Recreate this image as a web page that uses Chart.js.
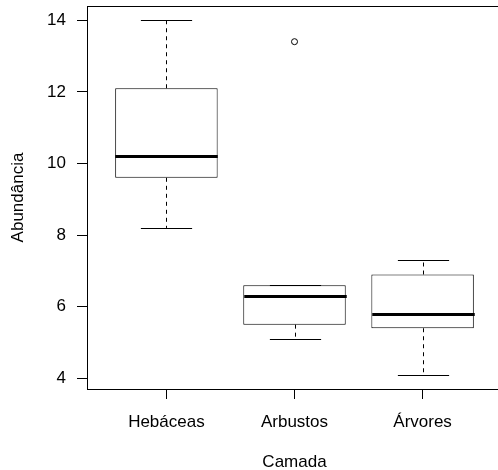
<!DOCTYPE html>
<html>
<head>
<meta charset="utf-8">
<script src="https://cdn.jsdelivr.net/npm/chart.js@4"></script>
<style>
  html, body { margin: 0; padding: 0; background: #fff; overflow: hidden; }
  canvas { display: block; }
</style>
</head>
<body>
<canvas id="boxChart" width="507" height="470"></canvas>
<script>
const categories = ['Hebáceas', 'Arbustos', 'Árvores'];
const whiskerLow = [8.2, 5.1, 4.1];
const q1 = [9.6, 5.5, 5.4];
const median = [10.2, 6.3, 5.8];
const q3 = [12.1, 6.6, 6.9];
const whiskerHigh = [14.0, 6.6, 7.3];
const outliers = [[], [13.4], []];
const yTicks = [4, 6, 8, 10, 12, 14];

const FONT = { family: "'Liberation Sans', Arial, sans-serif", size: 17 };

// whiskers, caps and medians drawn on top of the boxes
const boxExtras = {
    id: 'boxExtras',
    afterDatasetsDraw(chart) {
        const { ctx, scales: { x, y } } = chart;
        const bars = chart.getDatasetMeta(0).data;
        ctx.save();
        categories.forEach((c, i) => {
            const cx = Math.round(x.getPixelForValue(i + 1)) + 0.5;
            const half = bars[i].width / 2;
            const cap = half / 2;

            ctx.strokeStyle = '#000';
            ctx.lineWidth = 1;
            ctx.setLineDash([4, 4]);
            ctx.beginPath();
            ctx.moveTo(cx, y.getPixelForValue(q3[i]));
            ctx.lineTo(cx, y.getPixelForValue(whiskerHigh[i]));
            ctx.moveTo(cx, y.getPixelForValue(q1[i]));
            ctx.lineTo(cx, y.getPixelForValue(whiskerLow[i]));
            ctx.stroke();

            ctx.setLineDash([]);
            ctx.beginPath();
            const yh = Math.round(y.getPixelForValue(whiskerHigh[i])) + 0.5;
            const yl = Math.round(y.getPixelForValue(whiskerLow[i])) + 0.5;
            ctx.moveTo(cx - cap, yh);
            ctx.lineTo(cx + cap, yh);
            ctx.moveTo(cx - cap, yl);
            ctx.lineTo(cx + cap, yl);
            ctx.stroke();

            ctx.lineWidth = 3;
            ctx.beginPath();
            const ym = Math.round(y.getPixelForValue(median[i])) + 0.5;
            ctx.moveTo(cx - half, ym);
            ctx.lineTo(cx + half, ym);
            ctx.stroke();
        });
        ctx.restore();
    },
    afterDraw(chart) {
        const { ctx, chartArea: a } = chart;
        ctx.save();
        ctx.strokeStyle = '#000';
        ctx.lineWidth = 1;
        const l = Math.round(a.left) + 0.5;
        const t = Math.round(a.top) + 0.5;
        const b = Math.round(a.bottom) + 0.5;
        ctx.strokeRect(l, t, a.right + 5 - l, b - t);
        ctx.restore();
    }
};

const outlierPoints = [];
outliers.forEach((list, i) => list.forEach(v => outlierPoints.push({ x: i + 1, y: v })));

new Chart(document.getElementById('boxChart'), {
    type: 'bar',
    data: {
        datasets: [{
            type: 'bar',
            data: categories.map((c, i) => ({ x: i + 1, y: [q1[i], q3[i]] })),
            backgroundColor: '#fff',
            borderColor: '#000',
            borderWidth: 1,
            borderSkipped: false,
            barPercentage: 0.8,
            categoryPercentage: 1
        }, {
            type: 'scatter',
            data: outlierPoints,
            pointStyle: 'circle',
            pointRadius: 3,
            borderColor: '#000',
            backgroundColor: 'rgba(0,0,0,0)',
            borderWidth: 1
        }]
    },
    options: {
        responsive: false,
        animation: false,
        layout: { padding: { top: 6, right: 2, left: 0, bottom: 0 } },
        plugins: { legend: { display: false }, tooltip: { enabled: false } },
        scales: {
            x: {
                type: 'linear',
                offset: false,
                min: 0.38,
                max: 3.62,
                afterBuildTicks: s => { s.ticks = categories.map((c, i) => ({ value: i + 1 })); },
                afterFit: s => { s.height = 81; s.paddingLeft = 0; s.paddingRight = 0; },
                ticks: {
                    callback: v => categories[v - 1],
                    color: '#000',
                    font: FONT,
                    padding: 13,
                    maxRotation: 0,
                    autoSkip: false
                },
                grid: { drawOnChartArea: false, offset: false, color: '#000', tickLength: 10 },
                border: { display: false },
                title: { display: true, text: 'Camada', color: '#000', font: FONT, padding: { top: 0, bottom: -3 } }
            },
            y: {
                min: 3.704,
                max: 14.396,
                afterBuildTicks: s => { s.ticks = yTicks.map(v => ({ value: v })); },
                afterFit: s => { s.width = 87; s.paddingTop = 0; s.paddingBottom = 0; },
                ticks: { color: '#000', font: FONT, padding: 11 },
                grid: { drawOnChartArea: false, color: '#000', tickLength: 10 },
                border: { display: false },
                title: { display: true, text: 'Abundância', color: '#000', font: FONT, padding: { top: 8, bottom: 0 } }
            }
        }
    },
    plugins: [boxExtras]
});
</script>
</body>
</html>
